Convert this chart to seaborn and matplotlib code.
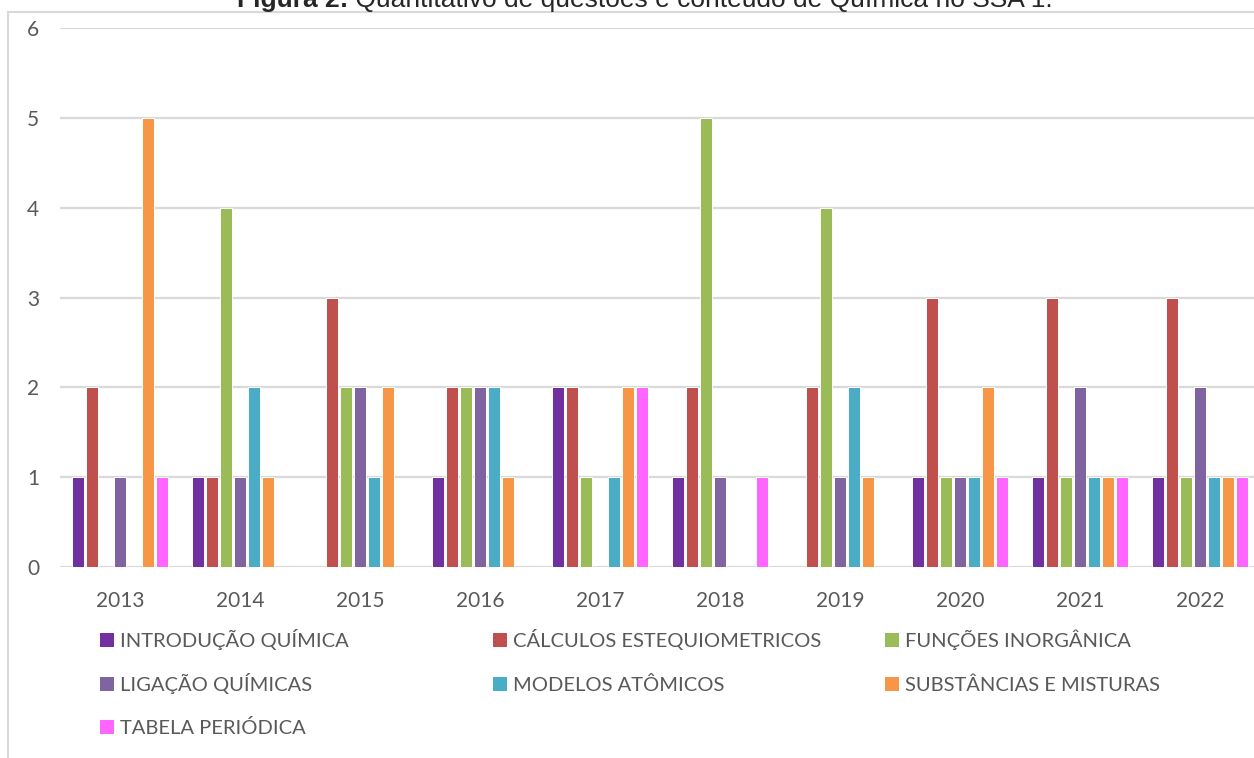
import matplotlib
matplotlib.use("Agg")
import matplotlib.pyplot as plt
from matplotlib.patches import Rectangle
import pandas as pd
import seaborn as sns

# --- data -------------------------------------------------------------
anos = ["2013", "2014", "2015", "2016", "2017", "2018", "2019", "2020", "2021", "2022"]
temas = [
    "INTRODUÇÃO QUÍMICA",
    "CÁLCULOS ESTEQUIOMETRICOS",
    "FUNÇÕES INORGÂNICA",
    "LIGAÇÃO QUÍMICAS",
    "MODELOS ATÔMICOS",
    "SUBSTÂNCIAS E MISTURAS",
    "TABELA PERIÓDICA",
]
introducao = [1, 1, 0, 1, 2, 1, 0, 1, 1, 1]
calculos = [2, 1, 3, 2, 2, 2, 2, 3, 3, 3]
funcoes = [0, 4, 2, 2, 1, 5, 4, 1, 1, 1]
ligacao = [1, 1, 2, 2, 0, 1, 1, 1, 2, 2]
modelos = [0, 2, 1, 2, 1, 0, 2, 1, 1, 1]
substancias = [5, 1, 2, 1, 2, 0, 1, 2, 1, 1]
tabela = [1, 0, 0, 0, 2, 1, 0, 1, 1, 1]
cores = ["#7030A0", "#C0504D", "#9BBB59", "#8064A2", "#4BACC6", "#F79646", "#FF66FF"]

series = [introducao, calculos, funcoes, ligacao, modelos, substancias, tabela]
linhas = [
    {"ano": a, "tema": t, "qtd": v}
    for t, vals in zip(temas, series)
    for a, v in zip(anos, vals)
]
df = pd.DataFrame(linhas)
df_plot = df[df["qtd"] > 0]

# --- style ------------------------------------------------------------
sns.set_style("white")
plt.rcParams["font.family"] = ["Lato", "DejaVu Sans"]
CINZA_TXT = "#595959"
CINZA_GRADE = "#D9D9D9"

W, H = 1254, 758
fig = plt.figure(figsize=(W / 100, H / 100), dpi=100)
ax = fig.add_axes([60 / W, 1 - 567 / H, 1200 / W, (567 - 28) / H])

sns.barplot(
    data=df_plot, x="ano", y="qtd", hue="tema",
    order=anos, hue_order=temas,
    palette=dict(zip(temas, cores)), saturation=1,
    width=0.82, gap=0.18, errorbar=None,
    edgecolor="white", linewidth=0.7,
    legend=False, ax=ax, zorder=3,
)

ax.set_xlim(-0.5, len(anos) - 0.5)
ax.set_ylim(0, 6)
ax.set_yticks(range(0, 7))
ax.set_xlabel("")
ax.set_ylabel("")
for s in ax.spines.values():
    s.set_visible(False)
ax.grid(axis="y", color=CINZA_GRADE, linewidth=1.6, zorder=0)
ax.grid(axis="x", visible=False)
ax.set_axisbelow(True)
ax.tick_params(axis="y", length=0, pad=15, labelsize=15, labelcolor=CINZA_TXT)
ax.tick_params(axis="x", length=0, pad=17.5, labelsize=15, labelcolor=CINZA_TXT)

# outer chart frame
fig.patches.append(Rectangle((8 / W, -0.1), 2.0, 1 - 12 / H + 0.1,
                             transform=fig.transFigure, fill=False,
                             edgecolor=CINZA_GRADE, linewidth=1.5))

# title: bold prefix followed by regular text
renderer = fig.canvas.get_renderer()
y_tit = 1 - 7 / H
t1 = fig.text(0, y_tit, "Figura 2:", fontsize=19, fontweight="bold",
              family="Liberation Sans", va="baseline", ha="left")
t2 = fig.text(0, y_tit, " Quantitativo de questões e conteúdo de Química no SSA 1.",
              fontsize=19, family="Liberation Sans", va="baseline", ha="left")
w1 = t1.get_window_extent(renderer).width
w2 = t2.get_window_extent(renderer).width
x0 = 645 - (w1 + w2) / 2
t1.set_x(x0 / W)
t2.set_x((x0 + w1) / W)

# legend: three columns, entries filled row by row
col_x = [100, 493, 885]
row_base = [647, 691, 734]
for i, (tema, cor) in enumerate(zip(temas, cores)):
    r, c = divmod(i, 3)
    x, yb = col_x[c], row_base[r]
    fig.patches.append(Rectangle((x / W, 1 - yb / H), 14 / W, 14 / H,
                                 transform=fig.transFigure,
                                 facecolor=cor, edgecolor="none"))
    fig.text((x + 20) / W, 1 - yb / H, tema, fontsize=14.5,
             color=CINZA_TXT, va="baseline", ha="left")

fig.savefig("out.png", dpi=100)
